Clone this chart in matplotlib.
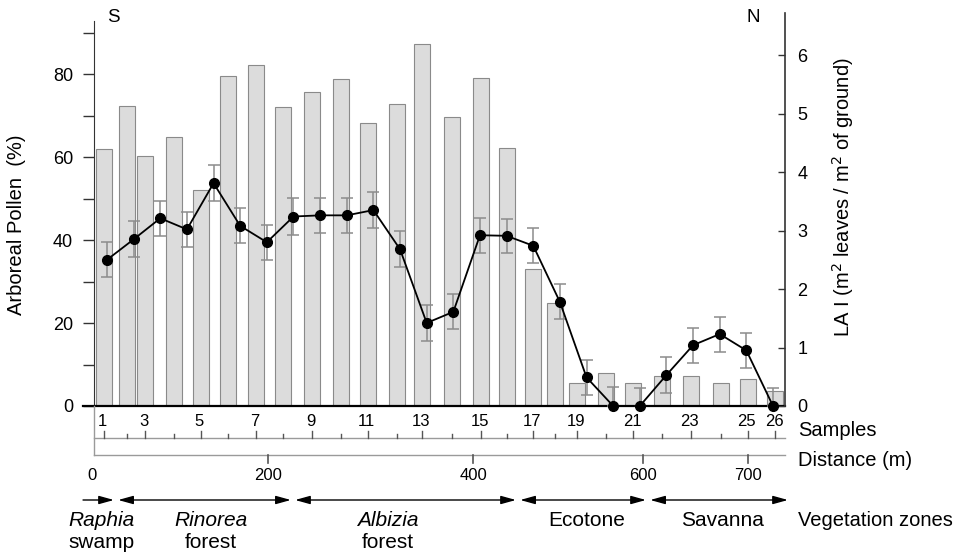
import numpy as np
import matplotlib.pyplot as plt

plt.rcParams['font.family'] = ['Liberation Sans', 'DejaVu Sans']

# sample numbers along the transect
samples = np.arange(1, 27)
# where the pollen samples sit on the axis (sample units, slightly irregular)
sample_pos = [0.89, 1.75, 2.43, 3.50, 4.51, 5.56, 6.59, 7.59, 8.70, 9.78,
              10.80, 11.89, 12.84, 13.95, 15.04, 16.02, 16.99, 17.80, 18.66,
              19.73, 20.76, 21.85, 22.92, 24.05, 25.05, 26.09]
# arboreal pollen (%) - bars
arboreal_pollen = [61.9, 72.4, 60.3, 64.7, 52.0, 79.5, 82.2, 72.1, 75.6, 78.7,
                   68.3, 72.7, 87.2, 69.7, 79.0, 62.2, 32.9, 24.7, 5.6, 7.9,
                   5.5, 7.3, 7.3, 5.5, 6.4, 3.6]
# leaf area index - line with error bars
lai = [2.50, 2.85, 3.21, 3.02, 3.81, 3.08, 2.80, 3.24, 3.26, 3.26,
       3.35, 2.68, 1.42, 1.61, 2.92, 2.91, 2.74, 1.78, 0.49, 0.0,
       0.0, 0.53, 1.04, 1.23, 0.95, 0.0]
lai_err = [0.30, 0.31, 0.30, 0.30, 0.31, 0.30, 0.30, 0.32, 0.30, 0.30,
           0.31, 0.31, 0.30, 0.30, 0.30, 0.29, 0.30, 0.30, 0.30, 0.33,
           0.30, 0.30, 0.30, 0.30, 0.30, 0.30]

sample_labels = ['1', '3', '5', '7', '9', '11', '13', '15', '17', '19',
                 '21', '23', '25', '26']
dist_labels = ['0', '200', '400', '600', '700']
dist_pos = [0.44, 7.04, 14.74, 21.12, 25.06]

zone_bounds = [0.10, 1.34, 7.98, 16.43, 21.31, 26.64]
zone_names = ['Raphia', 'Rinorea', 'Albizia', 'Ecotone', 'Savanna']
zone_sub = ['swamp', 'forest', 'forest', '', '']
zone_italic = [True, True, True, False, False]
zone_label_pos = [0.81, 4.90, 11.55, 19.02, 24.12]

W, H = 962, 555
x0, x1 = 0.512, 26.45

fig = plt.figure(figsize=(W / 100, H / 100), dpi=100)
ax = fig.add_axes([94 / W, (H - 406) / H, (785 - 94) / W, (406 - 13) / H])
ax.bar(sample_pos, arboreal_pollen, width=0.6, color='#dcdcdc',
       edgecolor='#8a8a8a', linewidth=0.8)
ax.set_xlim(x0, x1)
ax.set_ylim(0, 94.7)
ax.set_yticks(range(0, 100, 10))
ax.set_yticklabels(['0', '', '20', '', '40', '', '60', '', '80', ''])
ax.tick_params(axis='y', length=8, width=1, pad=7, labelsize=13, color='#333333')
ax.set_xticks([])
for s in ['top', 'right', 'bottom']:
    ax.spines[s].set_visible(False)
ax.spines['left'].set_bounds(0, 92.8)
ax.spines['left'].set_color('#333333')
ax.plot([0.10, x1], [0, 0], color='black', lw=1.6, clip_on=False, zorder=5)

ax2 = ax.twinx()
ax2.set_ylim(0, 6.72)
lower = [min(e, v) for e, v in zip(lai_err, lai)]
eb = ax2.errorbar(samples, lai, yerr=[lower, lai_err], fmt='-o', color='black',
                  ecolor='#8c8c8c', elinewidth=1.1, capsize=4, capthick=1.1,
                  ms=7, lw=1.3)
eb.lines[0].set_clip_on(False)
ax2.set_yticks(range(0, 7))
ax2.tick_params(axis='y', direction='in', length=5, width=1, pad=9,
                labelsize=13, color='#333333')
for s in ['top', 'left', 'bottom']:
    ax2.spines[s].set_visible(False)
ax2.spines['right'].set_color('#333333')
ax2.spines['right'].set_linewidth(1.2)

# lower panel: samples, distance and vegetation zones (y in pixel rows)
axb = fig.add_axes([94 / W, 0, (785 - 94) / W, (H - 406) / H], sharex=ax)
axb.set_ylim(H, 406)
axb.axis('off')
grey = '#9a9a9a'
axb.plot([x0, x0], [406, 455], color=grey, lw=1, clip_on=False)
axb.plot([x0, x1], [438, 438], color=grey, lw=1, clip_on=False)
axb.plot([x0, x1], [455, 455], color=grey, lw=1, clip_on=False)
for i, p in enumerate(sample_pos):
    n = samples[i]
    top = 431 if (n % 2 == 1 or n == 26) else 433.5
    axb.plot([p, p], [top, 438], color='#555555', lw=1, clip_on=False)
lab_pos = [sample_pos[int(s) - 1] for s in sample_labels]
for s, p in zip(sample_labels, lab_pos):
    axb.text(p - 0.05, 421, s, ha='center', va='center', fontsize=12)
for s, p in zip(dist_labels, dist_pos):
    if s != '0':
        axb.plot([p, p], [455, 463], color='#555555', lw=1.2, clip_on=False)
    axb.text(p, 476, s, ha='center', va='center', fontsize=12)

axb.text(26.94, 431, 'Samples', ha='left', va='center', fontsize=14.5)
axb.text(26.94, 461, 'Distance (m)', ha='left', va='center', fontsize=14.5)
axb.text(26.94, 520, 'Vegetation zones', ha='left', va='center', fontsize=14.5)

for k in range(len(zone_names)):
    a, b = zone_bounds[k], zone_bounds[k + 1]
    style = '-|>' if k == 0 else '<|-|>'
    axb.annotate('', xy=(b - 0.08, 500), xytext=(a + 0.08 if k else a, 500),
                 arrowprops=dict(arrowstyle=style + ',head_length=0.9,head_width=0.25',
                                 color='black', lw=1, mutation_scale=10,
                                 shrinkA=0, shrinkB=0),
                 annotation_clip=False)
    axb.text(zone_label_pos[k], 520, zone_names[k], ha='center', va='center',
             fontsize=15, style='italic' if zone_italic[k] else 'normal')
    if zone_sub[k]:
        axb.text(zone_label_pos[k], 543, zone_sub[k], ha='center', va='center',
                 fontsize=15)

fig.text(17 / W, 1 - 225 / H, 'Arboreal Pollen  (%)', rotation=90,
         ha='center', va='center', fontsize=14.5)
fig.text(843 / W, 1 - 197 / H, 'LA I (m$^2$ leaves / m$^2$ of ground)',
         rotation=90, ha='center', va='center', fontsize=14.5)
fig.text(113 / W, 1 - 17 / H, 'S', ha='center', va='center', fontsize=13.5)
fig.text(753 / W, 1 - 17 / H, 'N', ha='center', va='center', fontsize=13.5)

fig.savefig('out.png', dpi=100)
